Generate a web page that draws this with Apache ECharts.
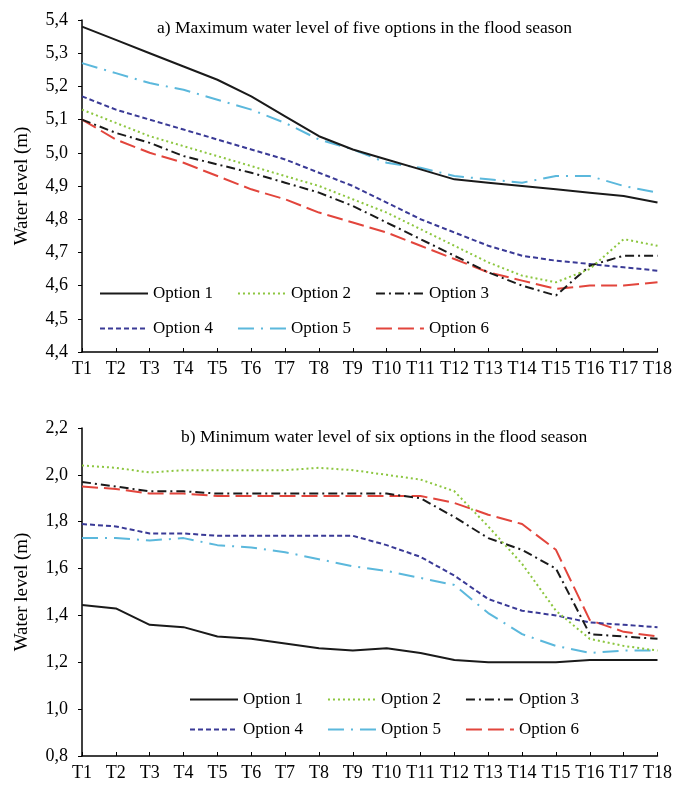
<!DOCTYPE html>
<html><head><meta charset="utf-8">
<script src="https://cdn.jsdelivr.net/npm/echarts@6/dist/echarts.min.js"></script>
<style>html,body{margin:0;padding:0;background:#fff}#c{width:675px;height:791px}</style>
</head><body><div id="c"></div>
<script>
const categories = ['T1','T2','T3','T4','T5','T6','T7','T8','T9','T10','T11','T12','T13','T14','T15','T16','T17','T18'];
const seriesNames = ['Option 1','Option 2','Option 3','Option 4','Option 5','Option 6'];
// a) maximum water level
const maxOpt1 = [5.38,5.34,5.30,5.26,5.22,5.17,5.11,5.05,5.01,4.98,4.95,4.92,4.91,4.90,4.89,4.88,4.87,4.85];
const maxOpt2 = [5.13,5.09,5.05,5.02,4.99,4.96,4.93,4.90,4.86,4.82,4.77,4.72,4.67,4.63,4.61,4.65,4.74,4.72];
const maxOpt3 = [5.10,5.06,5.03,4.99,4.965,4.94,4.91,4.88,4.84,4.79,4.74,4.69,4.64,4.60,4.57,4.66,4.69,4.69];
const maxOpt4 = [5.17,5.13,5.10,5.07,5.04,5.01,4.98,4.94,4.90,4.85,4.80,4.76,4.72,4.69,4.675,4.665,4.655,4.645];
const maxOpt5 = [5.27,5.24,5.21,5.19,5.16,5.13,5.09,5.04,5.01,4.97,4.955,4.93,4.92,4.91,4.93,4.93,4.90,4.88];
const maxOpt6 = [5.10,5.04,5.00,4.97,4.93,4.89,4.86,4.82,4.79,4.76,4.72,4.68,4.64,4.615,4.59,4.60,4.60,4.61];
// b) minimum water level
const minOpt1 = [1.445,1.43,1.36,1.35,1.31,1.30,1.28,1.26,1.25,1.26,1.24,1.21,1.20,1.20,1.20,1.21,1.21,1.21];
const minOpt2 = [2.04,2.03,2.01,2.02,2.02,2.02,2.02,2.03,2.02,2.00,1.98,1.93,1.78,1.62,1.42,1.30,1.27,1.25];
const minOpt3 = [1.97,1.95,1.93,1.93,1.92,1.92,1.92,1.92,1.92,1.92,1.90,1.82,1.73,1.68,1.60,1.32,1.31,1.30];
const minOpt4 = [1.79,1.78,1.75,1.75,1.74,1.74,1.74,1.74,1.74,1.70,1.65,1.57,1.47,1.42,1.40,1.37,1.36,1.35];
const minOpt5 = [1.73,1.73,1.72,1.73,1.70,1.69,1.67,1.64,1.61,1.59,1.56,1.53,1.41,1.32,1.27,1.24,1.25,1.25];
const minOpt6 = [1.95,1.94,1.92,1.92,1.91,1.91,1.91,1.91,1.91,1.91,1.91,1.88,1.83,1.79,1.68,1.38,1.33,1.31];
const titleA = 'a) Maximum water level of five options in the flood season';
const titleB = 'b) Minimum water level of six options in the flood season';
const yName = 'Water level (m)';

const FONT = '"Liberation Serif", "Times New Roman", serif';
const styles = [
  {color:'#1a1a1a', type:'solid'},
  {color:'#8cc63f', type:[2,3]},
  {color:'#1a1a1a', type:[9,4,2,4]},
  {color:'#3a3a96', type:[5,3]},
  {color:'#5bb8dc', type:[16,7,2,7]},
  {color:'#e2453c', type:[16,6]}
];
const maxData = [maxOpt1,maxOpt2,maxOpt3,maxOpt4,maxOpt5,maxOpt6];
const minData = [minOpt1,minOpt2,minOpt3,minOpt4,minOpt5,minOpt6];

const chart = echarts.init(document.getElementById('c'));
const fmt = v => v.toFixed(1).replace('.', ',');
const axisLine = {show:true, lineStyle:{color:'#000', width:1.5}};
function xAx(gi){return {type:'category', gridIndex:gi, data:categories, boundaryGap:false,
  axisLine, axisTick:{show:true, inside:true, length:4, lineStyle:{color:'#000'}},
  axisLabel:{color:'#000', fontFamily:FONT, fontSize:18, margin:8, interval:0}, splitLine:{show:false}};}
function yAx(gi,min,max,iv){return {type:'value', gridIndex:gi, min, max, interval:iv,
  name:yName, nameLocation:'middle', nameGap:50, nameRotate:90,
  nameTextStyle:{color:'#000', fontFamily:FONT, fontSize:19},
  axisLine, axisTick:{show:true, inside:false, length:4, lineStyle:{color:'#000'}},
  axisLabel:{color:'#000', fontFamily:FONT, fontSize:18, margin:14, formatter:fmt}, splitLine:{show:false}};}

const series = [];
[maxData, minData].forEach((set, gi) => {
  set.forEach((d, i) => {
    series.push({name:seriesNames[i], type:'line', xAxisIndex:gi, yAxisIndex:gi, data:d,
      symbol:'none', smooth:false, lineStyle:{color:styles[i].color, type:styles[i].type, width:2},
      itemStyle:{color:styles[i].color}, z: 10 - i});
  });
});
function lg(left, top, names){return {left, top, orient:'horizontal', itemWidth:48, itemHeight:10, itemGap:24,
  data:names, selectedMode:false, itemStyle:{opacity:0},
  textStyle:{color:'#000', fontFamily:FONT, fontSize:17}};}

chart.setOption({
  animation:false,
  backgroundColor:'#fff',
  title:[
    {text:titleA, left:152, top:14, textStyle:{fontFamily:FONT, fontSize:17.5, fontWeight:'normal', color:'#000'}},
    {text:titleB, left:176, top:423, textStyle:{fontFamily:FONT, fontSize:17.5, fontWeight:'normal', color:'#000'}}
  ],
  grid:[
    {left:82, right:17, top:20, height:332},
    {left:82, right:17, top:428, height:328}
  ],
  xAxis:[xAx(0), xAx(1)],
  yAxis:[yAx(0,4.4,5.4,0.1), yAx(1,0.8,2.2,0.2)],
  legend:[
    lg(94, 280, ['Option 1','Option 2','Option 3']),
    lg(94, 315, ['Option 4','Option 5','Option 6']),
    lg(184, 686, ['Option 1','Option 2','Option 3']),
    lg(184, 716, ['Option 4','Option 5','Option 6'])
  ],
  series
});
</script></body></html>
